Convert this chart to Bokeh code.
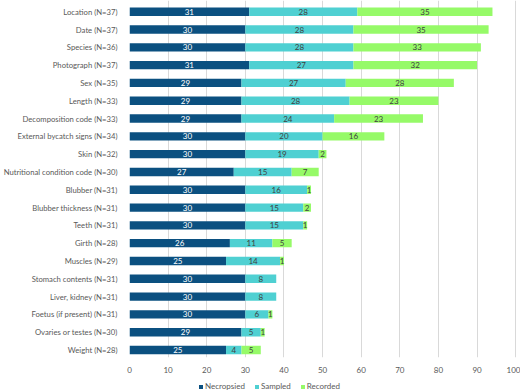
from bokeh.plotting import figure
from bokeh.layouts import column
from bokeh.models import ColumnDataSource, FixedTicker, Legend, LegendItem
from bokeh.core.properties import value
from bokeh.embed import file_html
from bokeh.resources import INLINE

categories = ["Location (N=37)", "Date (N=37)", "Species (N=36)", "Photograph (N=37)",
              "Sex (N=35)", "Length (N=33)", "Decomposition code (N=33)",
              "External bycatch signs (N=34)", "Skin (N=32)",
              "Nutritional condition code (N=30)", "Blubber (N=31)",
              "Blubber thickness (N=31)", "Teeth (N=31)", "Girth (N=28)",
              "Muscles (N=29)", "Stomach contents (N=31)", "Liver, kidney (N=31)",
              "Foetus (if present) (N=31)", "Ovaries or testes (N=30)", "Weight (N=28)"]
necropsied = [31, 30, 30, 31, 29, 29, 29, 30, 30, 27, 30, 30, 30, 26, 25, 30, 30, 30, 29, 25]
sampled = [28, 28, 28, 27, 27, 28, 24, 20, 19, 15, 16, 15, 15, 11, 14, 8, 8, 6, 5, 4]
recorded = [35, 35, 33, 32, 28, 23, 23, 16, 2, 7, 1, 2, 1, 5, 1, 0, 0, 1, 1, 5]
series_names = ["Necropsied", "Sampled", "Recorded"]
x_ticks = [0, 10, 20, 30, 40, 50, 60, 70, 80, 90, 100]

colors = ["#0b5080", "#4fd0d2", "#96fa68"]
n = len(categories)
ypos = [n - 1 - i for i in range(n)]

src = ColumnDataSource(dict(y=ypos, Necropsied=necropsied, Sampled=sampled, Recorded=recorded))

p = figure(width=520, height=375, x_range=(0, 101), y_range=(-0.42, n - 1 + 0.63),
           output_backend="svg", toolbar_location=None,
           min_border_top=0, min_border_bottom=13, min_border_right=1, min_border_left=0)
p.outline_line_color = None
p.background_fill_color = "white"

renderers = p.hbar_stack(series_names, y="y", height=0.47, color=colors, source=src, line_color=None)

def seg_labels(vals, starts, color):
    xs, ys, ts = [], [], []
    for i, v in enumerate(vals):
        if v > 0:
            xs.append(starts[i] + v / 2)
            ys.append(ypos[i])
            ts.append(str(v))
    s = ColumnDataSource(dict(x=xs, y=ys, t=ts))
    p.text(x="x", y="y", text="t", source=s, text_align="center", text_baseline="middle",
           text_font=value("Lato"), text_font_size="8px", text_color=color)

zeros = [0] * n
s2 = list(necropsied)
s3 = [a + b for a, b in zip(necropsied, sampled)]
seg_labels(necropsied, zeros, "white")
seg_labels(sampled, s2, "#404040")
seg_labels(recorded, s3, "#404040")

p.xgrid.ticker = FixedTicker(ticks=x_ticks)
p.xgrid.grid_line_color = "#d9d9d9"
p.ygrid.grid_line_color = None
p.xaxis.ticker = FixedTicker(ticks=x_ticks)
p.xaxis.axis_line_color = None
p.xaxis.major_tick_line_color = None
p.xaxis.minor_tick_line_color = None
p.xaxis.major_label_text_font = "Lato"
p.xaxis.major_label_text_font_size = "8px"
p.xaxis.major_label_text_color = "#595959"
p.xaxis.major_label_standoff = 3

p.yaxis.ticker = FixedTicker(ticks=ypos)
p.yaxis.major_label_overrides = {ypos[i]: categories[i] for i in range(n)}
p.yaxis.axis_line_color = None
p.yaxis.major_tick_line_color = None
p.yaxis.minor_tick_line_color = None
p.yaxis.major_label_text_font = "Lato"
p.yaxis.major_label_text_font_size = "7.7px"
p.yaxis.major_label_text_color = "#595959"
p.yaxis.major_label_standoff = 6

# legend strip: same data, drawn outside this strip's visible range so only the legend shows
p2 = figure(width=520, height=17, x_range=(0, 101), y_range=(200, 217),
            output_backend="svg", toolbar_location=None,
            x_axis_location=None, y_axis_location=None,
            min_border_top=0, min_border_bottom=0, min_border_left=0, min_border_right=1)
p2.outline_line_color = None
p2.grid.visible = False
leg_r = p2.hbar_stack(series_names, y="y", height=0.47, color=colors, source=src, line_color=None)
legend = Legend(items=[LegendItem(label=series_names[i], renderers=[leg_r[i]]) for i in range(3)],
                orientation="horizontal", location=(69, 1),
                label_text_font="Lato", label_text_font_size="8px", label_text_color="#595959",
                glyph_width=5, glyph_height=5, label_height=9, label_standoff=2, spacing=9,
                padding=0, margin=0, border_line_color=None, background_fill_alpha=0)
p2.add_layout(legend, "center")

layout = column(p, p2, spacing=0)
open("out.html", "w").write(file_html(layout, INLINE))
